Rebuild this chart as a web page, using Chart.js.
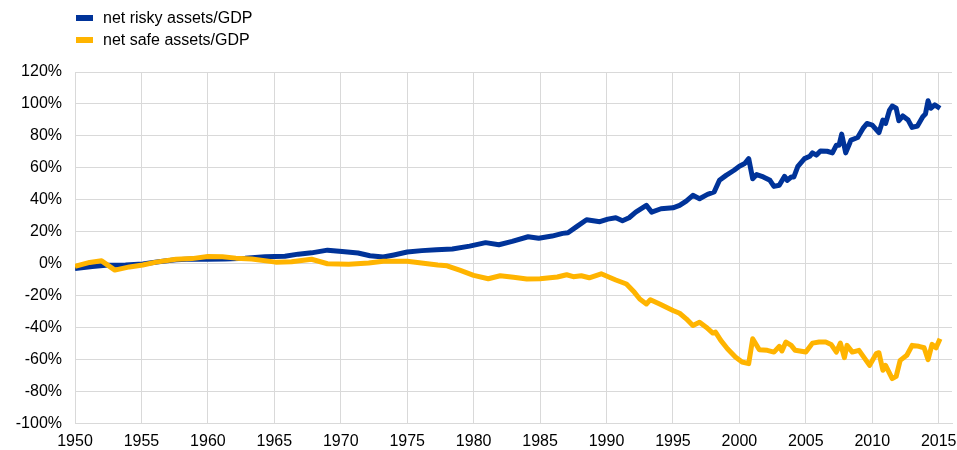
<!DOCTYPE html>
<html>
<head>
<meta charset="utf-8">
<script src="https://cdn.jsdelivr.net/npm/chart.js@4.4.1/dist/chart.umd.min.js"></script>
<style>
  html, body { margin: 0; padding: 0; background: #ffffff; }
  #wrap { position: relative; width: 957px; height: 450px; background: #ffffff; }
  #legend { position: absolute; left: 76px; top: 7px; font-family: 'Liberation Sans', Arial, sans-serif; font-size: 16px; color: #000; }
  .row { display: flex; align-items: center; height: 22px; }
  .box { width: 17px; height: 6px; margin-right: 10px; }
</style>
</head>
<body>
<div id="wrap">
  <canvas id="c" width="957" height="450"></canvas>
  <div id="legend"></div>
</div>
<script>
// ---- Data ----
const seriesNames = ['net risky assets/GDP', 'net safe assets/GDP'];
const seriesColors = ['#003399', '#FFB400'];

const riskyYears = [1950, 1951.3, 1952.3, 1953.8, 1955.1, 1956.3, 1957.6, 1958.8, 1960, 1961.3, 1962.8, 1964.3, 1965.8, 1966.8, 1967.8, 1969, 1970.1, 1971.3, 1972.2, 1973.2, 1974, 1975, 1976.1, 1977.2, 1978.4, 1979.7, 1980.9, 1981.9, 1982.9, 1984.1, 1984.9, 1985.9, 1986.7, 1987.1, 1987.7, 1988.5, 1989.5, 1990.1, 1990.7, 1991.2, 1991.7, 1992.2, 1993.0, 1993.4, 1994.1, 1995.0, 1995.5, 1996, 1996.5, 1997, 1997.6, 1998.1, 1998.5, 1999, 1999.6, 2000, 2000.4, 2000.7, 2001, 2001.3, 2001.8, 2002.3, 2002.6, 2003, 2003.4, 2003.6, 2003.9, 2004.1, 2004.4, 2004.9, 2005.3, 2005.5, 2005.8, 2006.1, 2006.6, 2007, 2007.3, 2007.5, 2007.7, 2008, 2008.4, 2008.9, 2009.3, 2009.6, 2010, 2010.5, 2010.8, 2011, 2011.3, 2011.5, 2011.8, 2012, 2012.3, 2012.7, 2013, 2013.4, 2013.8, 2014, 2014.2, 2014.4, 2014.7, 2015.1];
const riskyValues = [-3, -1.7, -1, -0.8, -0.2, 1.2, 2.5, 3, 2.8, 3, 3.5, 4.3, 4.7, 6, 6.8, 8.5, 7.6, 6.7, 5, 4.2, 5.5, 7.3, 8.2, 8.8, 9.2, 11, 13.2, 11.9, 14, 16.9, 16, 17.3, 19, 19.4, 22.9, 27.5, 26.3, 27.9, 28.8, 26.9, 28.8, 32.3, 36.5, 32.3, 34.4, 35, 36.5, 39.2, 42.8, 40.7, 43.4, 44.9, 52.2, 55.3, 58.5, 61, 62.7, 65.8, 53.2, 55.8, 54.3, 52.2, 48.4, 49.1, 54.7, 52.2, 54.3, 54.3, 61, 65.8, 67.3, 69.4, 68, 70.6, 70.4, 69.4, 74.2, 74.2, 81.1, 69.4, 77.4, 79, 84.7, 87.8, 86.8, 82, 89.9, 87.8, 96.2, 98.7, 97.3, 89.5, 92.5, 89.9, 85.3, 86.2, 92, 93.7, 102, 97.3, 99.4, 97.3];

const safeYears = [1950, 1951.1, 1952, 1953, 1954.1, 1955.1, 1956.1, 1957.6, 1958.8, 1960, 1961.1, 1962.1, 1963.3, 1965.1, 1966.3, 1967.8, 1969, 1970.6, 1972.1, 1973.2, 1975, 1977.3, 1978, 1979, 1980, 1981.1, 1982, 1983, 1984, 1985, 1986.3, 1987, 1987.5, 1988.1, 1988.7, 1989.6, 1990.3, 1990.7, 1991.5, 1992.1, 1992.5, 1993, 1993.3, 1994, 1995, 1995.5, 1996, 1996.5, 1997, 1997.5, 1998, 1998.2, 1998.6, 1999.1, 1999.7, 2000.2, 2000.7, 2001, 2001.5, 2002.1, 2002.6, 2003, 2003.2, 2003.5, 2003.9, 2004.2, 2005, 2005.5, 2006, 2006.5, 2006.9, 2007.3, 2007.6, 2007.9, 2008.1, 2008.5, 2009, 2009.8, 2010.3, 2010.5, 2010.8, 2011, 2011.5, 2011.8, 2012.1, 2012.6, 2013, 2013.5, 2013.9, 2014.2, 2014.5, 2014.8, 2015.1];
const safeValues = [-1.7, 0.8, 1.8, -4, -2, -0.8, 1, 2.8, 3.2, 4.5, 4.3, 3.5, 3, 1, 1.2, 2.8, 0, -0.3, 0.5, 1.5, 1.5, -0.8, -1.3, -4.2, -7.3, -9.4, -7.5, -8.5, -9.6, -9.4, -8.3, -6.9, -8.1, -7.5, -8.8, -6.3, -8.8, -10.2, -12.7, -17.9, -22.1, -25.2, -22.5, -25.2, -29.3, -31, -34.5, -38.7, -36.6, -39.7, -43.4, -42.8, -48, -53.2, -58.4, -61.5, -62.5, -47, -53.8, -54.2, -55.3, -51.7, -54.6, -49, -51.1, -54.2, -55.3, -49.7, -49, -49, -50.5, -55.3, -49.7, -58.8, -51.1, -55.3, -54.2, -63.6, -56.3, -55.7, -66.7, -63.6, -71.9, -70.5, -60.5, -57.3, -51.1, -51.7, -52.6, -60, -50.5, -52.6, -47];

const xTickYears = [1950, 1955, 1960, 1965, 1970, 1975, 1980, 1985, 1990, 1995, 2000, 2005, 2010, 2015];
const yTickValues = [-100, -80, -60, -40, -20, 0, 20, 40, 60, 80, 100, 120];

// ---- Legend (HTML text) ----
const legendEl = document.getElementById('legend');
seriesNames.forEach((name, i) => {
  const row = document.createElement('div');
  row.className = 'row';
  const box = document.createElement('span');
  box.className = 'box';
  box.style.background = seriesColors[i];
  const txt = document.createElement('span');
  txt.textContent = name;
  row.appendChild(box);
  row.appendChild(txt);
  legendEl.appendChild(row);
});

const toPoints = (xs, ys) => xs.map((x, i) => ({ x: x, y: ys[i] }));

const fontSpec = { family: "'Liberation Sans', Arial, sans-serif", size: 16 };
const gridColor = '#d9d9d9';

new Chart(document.getElementById('c'), {
  type: 'line',
  data: {
    datasets: [
      { label: seriesNames[0], data: toPoints(riskyYears, riskyValues), borderColor: seriesColors[0], backgroundColor: seriesColors[0], borderWidth: 5, pointRadius: 0, tension: 0, borderJoinStyle: 'round', order: 1 },
      { label: seriesNames[1], data: toPoints(safeYears, safeValues), borderColor: seriesColors[1], backgroundColor: seriesColors[1], borderWidth: 5, pointRadius: 0, tension: 0, borderJoinStyle: 'round', order: 0 }
    ]
  },
  options: {
    responsive: false,
    animation: false,
    devicePixelRatio: 1,
    layout: { padding: { left: 0, right: 5, top: 72, bottom: 0 } },
    plugins: { legend: { display: false }, tooltip: { enabled: false } },
    scales: {
      x: {
        type: 'linear',
        min: 1950,
        max: 2016,
        afterBuildTicks: (s) => { s.ticks = xTickYears.map(v => ({ value: v })); },
        afterFit: (s) => { s.height = 26.5; s.paddingLeft = 0; s.paddingRight = 0; },
        grid: { color: gridColor, lineWidth: 1, drawTicks: false },
        border: { color: gridColor, width: 1 },
        ticks: { font: fontSpec, color: '#000', padding: 8, maxRotation: 0, autoSkip: false, callback: (v) => String(v) }
      },
      y: {
        min: -100,
        max: 120,
        afterBuildTicks: (s) => { s.ticks = yTickValues.map(v => ({ value: v })); },
        afterFit: (s) => { s.width = 75; s.paddingTop = 0; s.paddingBottom = 0; },
        grid: { color: gridColor, lineWidth: 1, drawTicks: false },
        border: { color: gridColor, width: 1 },
        ticks: { font: fontSpec, color: '#000', padding: 13, callback: (v) => v + '%' }
      }
    }
  }
});
</script>
</body>
</html>
